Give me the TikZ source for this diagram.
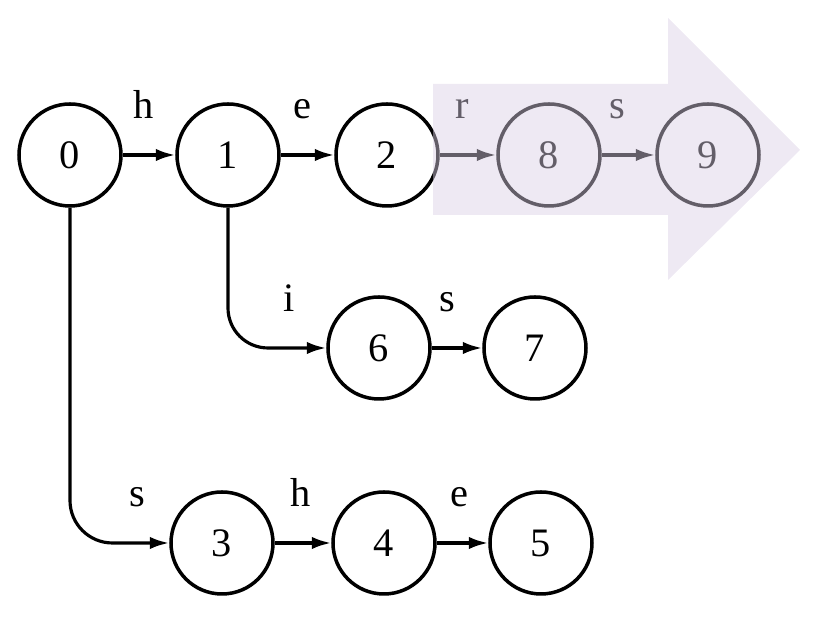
\documentclass[tikz,border=0pt]{standalone}
\usepackage{fontspec}
\setmainfont{Liberation Serif}
\usetikzlibrary{arrows.meta}

\definecolor{hilite}{RGB}{217,206,228}
\newcommand{\rows}{
\def\ya{9.58}   % top row
\def\yb{5.72}   % middle row
\def\yc{1.82}   % bottom row
}
\newcommand{\symsize}{\fontsize{23}{27}\selectfont}

\tikzset{
  state/.style={circle,draw,line width=2pt,minimum size=2.04cm,inner sep=0pt,font=\symsize},
  trans/.style={line width=1.8pt,-{Latex[length=11pt,width=7pt]}},
  sym/.style={anchor=base,yshift=0.72cm,font=\symsize},
}

\begin{document}
\begin{tikzpicture}
  \rows
  \useasboundingbox (0,0) rectangle (16.44,12.68);
  \node[state] (n0) at (1.40,\ya) {0};
  \node[state] (n1) at (4.56,\ya) {1};
  \node[state] (n2) at (7.74,\ya) {2};
  \node[state] (n8) at (10.98,\ya) {8};
  \node[state] (n9) at (14.16,\ya) {9};
  \node[state] (n6) at (7.58,\yb) {6};
  \node[state] (n7) at (10.70,\yb) {7};
  \node[state] (n3) at (4.44,\yc) {3};
  \node[state] (n4) at (7.68,\yc) {4};
  \node[state] (n5) at (10.82,\yc) {5};
%
  \draw[trans] (n0) -- node[sym,pos=0.4] {h} (n1);
  \draw[trans] (n1) -- node[sym,pos=0.4] {e} (n2);
  \draw[trans] (n2) -- node[sym,pos=0.4] {r} (n8);
  \draw[trans] (n8) -- node[sym,pos=0.3] {s} (n9);
  \draw[trans,rounded corners=0.8cm] (n1) |- node[sym,pos=0.81] {i} (n6);
  \draw[trans] (n6) -- node[sym,pos=0.3] {s} (n7);
  \draw[trans,rounded corners=0.85cm] (n0) |- node[sym,pos=0.84] {s} (n3);
  \draw[trans] (n3) -- node[sym,pos=0.45] {h} (n4);
  \draw[trans] (n4) -- node[sym,pos=0.45] {e} (n5);
%
  \fill[hilite,fill opacity=0.46] (8.66,8.38) -- (8.66,11.0) -- (13.36,11.0)
    -- (13.36,12.32) -- (16.0,9.68) -- (13.36,7.08) -- (13.36,8.38) -- cycle;
\end{tikzpicture}
\end{document}
